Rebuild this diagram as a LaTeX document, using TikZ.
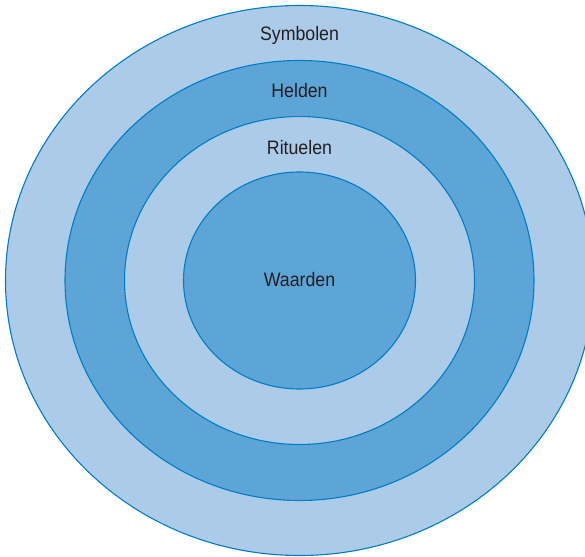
\documentclass[tikz,border=0pt]{standalone}
\usepackage{fontspec}
\setmainfont[FakeStretch=0.91]{Liberation Sans}
\usetikzlibrary{shapes.geometric}
\definecolor{ringlight}{RGB}{171,203,233}
\definecolor{ringdark}{RGB}{93,164,215}
\definecolor{ringline}{RGB}{0,125,197}
\definecolor{labelgray}{RGB}{35,31,32}

\begin{document}
\begin{tikzpicture}[
        x=1pt, y=1pt,
        ring/.style={ellipse, draw=ringline, line width=1.1pt, inner sep=0pt},
        lbl/.style={text=labelgray, font=\fontsize{19.5}{22}\selectfont, text height=14pt, text depth=0pt, inner sep=0pt}
      ]
      \useasboundingbox (-299.5,-275.5) rectangle (285.5,280.5);
      \clip (-299.5,-275.5) rectangle (285.5,280.5);

      % layers of the onion, outside in
      \node[ring, fill=ringlight, minimum width=588pt, minimum height=550pt] (symbolen) at (0,0) {};
      \node[ring, fill=ringdark, minimum width=469pt, minimum height=440pt] (helden) at (0,0) {};
      \node[ring, fill=ringlight, minimum width=350pt, minimum height=328pt] (rituelen) at (0,0) {};
      \node[ring, fill=ringdark, minimum width=232pt, minimum height=217pt] (waarden) at (0,0) {};

      \node[lbl] (symbolenlbl) at ([yshift=-28.5pt]symbolen.north) {Symbolen};
      \node[lbl] (heldenlbl) at ([yshift=-30.5pt]helden.north) {Helden};
      \node[lbl] (rituelenlbl) at ([yshift=-31.5pt]rituelen.north) {Rituelen};
      \node[lbl] (waardenlbl) at ([yshift=0.5pt]waarden.center) {Waarden};
    \end{tikzpicture}
\end{document}
